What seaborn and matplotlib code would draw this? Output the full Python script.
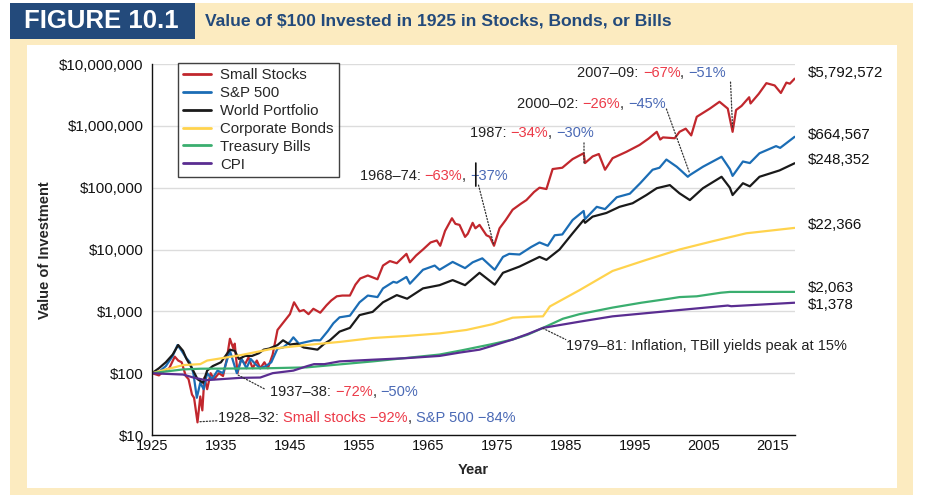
import numpy as np
import pandas as pd
import seaborn as sns
import matplotlib.pyplot as plt
from matplotlib import font_manager
from matplotlib.patches import Rectangle
from matplotlib.lines import Line2D
from matplotlib.ticker import FixedLocator, FuncFormatter, NullLocator

# ---- data (value of $100 invested) ----
small_years = [1925.0, 1926.0, 1926.8, 1927.5, 1928.3, 1928.8, 1929.3, 1929.9, 1930.3, 1930.8,
               1931.1, 1931.6, 1932.0, 1932.3, 1932.6, 1933.0, 1933.5, 1934.0, 1934.7, 1935.3,
               1935.8, 1936.3, 1936.8, 1937.0, 1937.4, 1937.9, 1938.5, 1939.0, 1939.6, 1940.2,
               1940.7, 1941.3, 1941.8, 1942.5, 1943.2, 1944.0, 1945.0, 1945.6, 1946.4, 1947.0,
               1947.7, 1948.4, 1949.4, 1950.3, 1951.0, 1951.8, 1952.6, 1953.7, 1954.5, 1955.2,
               1956.3, 1957.7, 1958.5, 1959.5, 1960.5, 1961.9, 1962.4, 1963.3, 1964.3, 1965.4,
               1966.3, 1966.8, 1967.5, 1968.5, 1969.0, 1969.6, 1970.4, 1970.8, 1971.5, 1971.9,
               1972.5, 1973.5, 1974.0, 1974.6, 1975.4, 1976.3, 1977.3, 1978.5, 1979.3, 1980.4,
               1981.2, 1982.2, 1983.1, 1984.5, 1986.0, 1987.6, 1987.8, 1988.9, 1989.8, 1990.7,
               1991.8, 1993.8, 1995.7, 1997.0, 1998.2, 1998.7, 1999.1, 2000.8, 2001.5, 2002.4,
               2003.2, 2004.0, 2005.9, 2007.3, 2008.5, 2009.2, 2009.7, 2010.5, 2011.6, 2011.8,
               2013.0, 2014.1, 2015.3, 2016.2, 2017.0, 2017.5, 2018.2]
small_vals = [100, 92, 110, 120, 185, 160, 150, 90, 80, 45,
              40, 16, 42, 25, 85, 55, 100, 80, 100, 90,
              160, 360, 250, 300, 100, 170, 140, 180, 120, 160,
              120, 150, 120, 200, 500, 650, 900, 1400, 1000, 1050,
              900, 1100, 950, 1250, 1500, 1750, 1800, 1800, 2700, 3400,
              3800, 3300, 5500, 6500, 6000, 8500, 6200, 8000, 10000, 13000,
              14000, 11500, 20000, 32000, 26000, 25000, 16000, 18000, 27000, 22000,
              25000, 17000, 16000, 11500, 22000, 30000, 44000, 55000, 63000, 85000,
              100000, 95000, 200000, 210000, 290000, 360000, 250000, 320000, 350000, 195000,
              300000, 380000, 490000, 620000, 800000, 600000, 650000, 630000, 800000, 900000,
              700000, 1400000, 1900000, 2450000, 1900000, 800000, 1800000, 2100000, 2900000, 2300000,
              3300000, 4900000, 4500000, 3400000, 5000000, 4800000, 5792572]

sp_years = [1925.0, 1926.0, 1927.0, 1928.0, 1928.7, 1929.3, 1929.9, 1930.5, 1931.0, 1931.5,
            1932.0, 1932.5, 1933.0, 1933.7, 1934.5, 1935.3, 1936.3, 1937.3, 1938.0, 1938.7,
            1939.3, 1940.0, 1940.7, 1941.5, 1942.3, 1943.2, 1944.0, 1945.0, 1945.5, 1946.3,
            1947.4, 1948.5, 1949.4, 1950.5, 1951.3, 1952.2, 1953.7, 1955.1, 1956.3, 1957.7,
            1958.5, 1960.0, 1960.5, 1961.9, 1962.4, 1964.3, 1966.0, 1966.7, 1968.6, 1970.4,
            1971.5, 1972.9, 1974.7, 1975.9, 1976.8, 1978.3, 1980.0, 1981.2, 1982.4, 1983.4,
            1984.5, 1986.0, 1987.6, 1987.8, 1989.5, 1990.7, 1992.4, 1994.3, 1995.8, 1997.6,
            1998.6, 1999.6, 2001.1, 2001.7, 2002.7, 2003.0, 2004.9, 2007.6, 2008.8, 2009.2,
            2010.7, 2011.7, 2013.1, 2015.5, 2016.1, 2018.2]
sp_vals = [100, 105, 130, 190, 285, 230, 180, 150, 100, 40,
           70, 55, 100, 80, 110, 100, 230, 100, 170, 120,
           170, 140, 120, 130, 150, 250, 260, 320, 380, 300,
           320, 340, 340, 480, 640, 800, 850, 1400, 1800, 1700,
           2350, 3000, 2900, 3600, 2800, 4700, 5500, 4700, 6300, 5000,
           6200, 7200, 4700, 7600, 8500, 8300, 11000, 13000, 11500, 17000,
           17500, 30000, 42000, 31000, 49000, 45000, 70000, 80000, 118000, 195000,
           210000, 285000, 218000, 190000, 150000, 160000, 218000, 316000, 200000, 155000,
           265000, 250000, 360000, 470000, 440000, 664567]

world_years = [1925.0, 1926.0, 1927.0, 1928.0, 1928.8, 1929.5, 1930.0, 1930.8, 1931.6, 1932.4,
               1933.0, 1933.8, 1935.0, 1936.3, 1937.0, 1937.6, 1938.5, 1939.5, 1940.5, 1941.2,
               1942.0, 1943.2, 1944.0, 1945.0, 1946.0, 1947.0, 1948.0, 1949.0, 1950.0, 1950.8,
               1952.2, 1953.7, 1955.1, 1957.0, 1958.5, 1960.5, 1962.0, 1964.3, 1966.7, 1968.6,
               1970.4, 1972.5, 1974.7, 1975.9, 1978.3, 1981.2, 1982.2, 1984.1, 1986.0, 1987.6,
               1987.8, 1988.9, 1990.9, 1992.8, 1994.7, 1996.7, 1998.2, 2000.1, 2001.5, 2003.0,
               2004.9, 2007.6, 2008.8, 2009.2, 2010.7, 2011.7, 2013.1, 2016.0, 2018.2]
world_vals = [100, 120, 150, 200, 285, 230, 170, 120, 80, 70,
              110, 130, 150, 240, 230, 170, 190, 190, 210, 240,
              250, 285, 340, 290, 300, 260, 250, 240, 300, 340,
              470, 540, 870, 980, 1400, 1830, 1600, 2350, 2650, 3200,
              2650, 4200, 2700, 4200, 5300, 7600, 6800, 10000, 18300, 30000,
              27000, 34000, 39000, 49000, 56000, 76000, 98000, 110000, 81000, 63000,
              98000, 150000, 100000, 76000, 118000, 105000, 150000, 190000, 248352]

corp_years = [1925.0, 1929.5, 1932.0, 1933.0, 1937.8, 1942.6, 1947.4, 1952.2, 1957.0, 1961.9,
              1966.7, 1970.6, 1974.4, 1977.3, 1980.2, 1981.7, 1982.7, 1987.0, 1991.8, 1996.7,
              2001.5, 2006.3, 2011.2, 2018.2]
corp_vals = [100, 135, 140, 160, 195, 250, 285, 320, 370, 400,
             440, 500, 620, 790, 820, 830, 1200, 2200, 4500, 6800,
             10000, 13600, 18300, 22366]

tbill_years = [1925.0, 1929.5, 1932.0, 1941.6, 1947.4, 1957.0, 1966.7, 1970.0, 1974.0, 1977.3,
               1979.5, 1981.7, 1984.6, 1987.0, 1991.8, 1996.0, 2000.0, 2001.5, 2004.0, 2007.5,
               2008.8, 2018.2]
tbill_vals = [100, 115, 118, 120, 124, 155, 200, 235, 290, 350,
              420, 540, 760, 900, 1150, 1380, 1600, 1700, 1750, 2000,
              2060, 2063]

cpi_years = [1925.0, 1926.5, 1929.5, 1931.0, 1932.8, 1937.8, 1940.7, 1942.5, 1945.5, 1947.5,
             1948.5, 1950.0, 1952.2, 1957.0, 1961.9, 1966.7, 1969.6, 1972.5, 1974.5, 1977.3,
             1979.5, 1981.7, 1987.0, 1991.8, 2001.5, 2008.5, 2009.0, 2018.2]
cpi_vals = [100, 98, 95, 85, 77, 84, 85, 100, 110, 130,
            140, 140, 155, 165, 175, 190, 215, 240, 280, 350,
            430, 540, 680, 830, 1050, 1240, 1210, 1378]

series_names = ['Small Stocks', 'S&P 500', 'World Portfolio', 'Corporate Bonds', 'Treasury Bills', 'CPI']
series_colors = ['#c1272d', '#1b6db5', '#1a1a1a', '#ffd34d', '#3aae6f', '#5a2d91']
end_labels = ['$5,792,572', '$664,567', '$248,352', '$22,366', '$2,063', '$1,378']

RED = '#ec3a48'
BLUE = '#4a69b5'

df = pd.concat([
    pd.DataFrame({'Year': yrs, 'Value': vals, 'Series': name})
    for name, yrs, vals in zip(series_names,
                               [small_years, sp_years, world_years, corp_years, tbill_years, cpi_years],
                               [small_vals, sp_vals, world_vals, corp_vals, tbill_vals, cpi_vals])
])

sns.set_style('white')
names = {f.name for f in font_manager.fontManager.ttflist}
head_font = 'Liberation Sans Narrow' if 'Liberation Sans Narrow' in names else 'Liberation Sans'
plt.rcParams['font.family'] = ['Liberation Sans', 'DejaVu Sans']

W, H = 931, 495
fig = plt.figure(figsize=(W / 100, H / 100), dpi=100)
fig.patch.set_facecolor('white')

cream = '#fcebc0'
navy = '#234a7b'
fig.add_artist(Rectangle((10 / W, 0), 903 / W, 492 / H, transform=fig.transFigure,
                         facecolor=cream, edgecolor='none', zorder=-5))
fig.add_artist(Rectangle((27 / W, 7 / H), 870 / W, 443 / H, transform=fig.transFigure,
                         facecolor='white', edgecolor='none', zorder=-4))
fig.add_artist(Rectangle((10 / W, 456 / H), 185 / W, 36 / H, transform=fig.transFigure,
                         facecolor=navy, edgecolor='none', zorder=-3))
fig.text(101 / W, 1 - 21 / H, 'FIGURE 10.1', color='white', fontsize=18.5, fontweight='bold',
         family=[head_font, 'DejaVu Sans'], ha='center', va='center')
fig.text(205 / W, 1 - 21 / H, 'Value of $100 Invested in 1925 in Stocks, Bonds, or Bills',
         color=navy, fontsize=12.6, fontweight='bold', family=[head_font, 'DejaVu Sans'],
         ha='left', va='center')

ax = fig.add_axes([152 / W, 1 - 435 / H, 643 / W, 371 / H])
ax.set_facecolor('white')

sns.lineplot(data=df, x='Year', y='Value', hue='Series', hue_order=series_names,
             palette=dict(zip(series_names, series_colors)), estimator=None, errorbar=None,
             sort=False, linewidth=1.6, legend=False, ax=ax)

ax.set_yscale('log')
ax.set_ylim(10, 1e7)
ax.set_xlim(1925, 2018.25)

ax.yaxis.set_major_locator(FixedLocator([10 ** k for k in range(1, 8)]))
ax.yaxis.set_minor_locator(NullLocator())
ax.yaxis.set_major_formatter(FuncFormatter(lambda v, p: '${:,.0f}'.format(v)))
ax.xaxis.set_major_locator(FixedLocator(list(range(1925, 2016, 10))))
ax.xaxis.set_minor_locator(FixedLocator(list(range(1930, 2018, 10))))
ax.tick_params(axis='y', direction='out', length=5, width=1, pad=1, labelsize=10.8, colors='#111111')
ax.tick_params(axis='x', which='both', direction='in', length=5, width=1, pad=3, labelsize=10.5,
               colors='#111111')
ax.grid(axis='y', color='#dcdcdc', lw=1)
ax.set_axisbelow(True)
for s in ['top', 'right']:
    ax.spines[s].set_visible(False)
for s in ['left', 'bottom']:
    ax.spines[s].set_color('#111111')
    ax.spines[s].set_linewidth(1)
ax.set_xlabel('')
ax.set_ylabel('')

fig.text(45 / W, 1 - 250 / H, 'Value of Investment', rotation=90, fontsize=10.5,
         fontweight='bold', ha='center', va='center')
fig.text(473 / W, 1 - 470 / H, 'Year', fontsize=10.5, fontweight='bold', ha='center', va='center')

# legend
handles = [Line2D([0], [0], color=c, lw=2) for c in series_colors]
leg = ax.legend(handles, series_names, loc='upper left', bbox_to_anchor=(0.040, 1.003),
                frameon=True, fancybox=False, edgecolor='#111111', fontsize=10.8,
                handlelength=1.9, handletextpad=0.6, labelspacing=0.26, borderpad=0.35,
                borderaxespad=0)
leg.get_frame().set_linewidth(1)


def multi_text(x, y, parts):
    t = ax.text(x, y, parts[0][0], color=parts[0][1], fontsize=10.5, ha='left', va='center')
    for s, c in parts[1:]:
        t = ax.annotate(s, xy=(1, 0), xycoords=t, color=c, fontsize=10.5, ha='left', va='bottom')


def leader(p_from, p_to):
    ax.annotate('', xy=p_to, xytext=p_from,
                arrowprops=dict(arrowstyle='-', color='#333333', lw=0.9, ls=(0, (1, 1.5)),
                                shrinkA=0, shrinkB=0))


multi_text(1986.7, 7.1e6, [('2007–09: ', '#222222'), ('−67%', RED), (', ', '#222222'), ('−51%', BLUE)])
leader((2008.9, 5.1e6), (2009.2, 9.2e5))
multi_text(1977.9, 2.25e6, [('2000–02: ', '#222222'), ('−26%', RED), (', ', '#222222'), ('−45%', BLUE)])
leader((1999.6, 1.87e6), (2002.9, 1.8e5))
multi_text(1971.1, 7.6e5, [('1987: ', '#222222'), ('−34%', RED), (', ', '#222222'), ('−30%', BLUE)])
leader((1987.65, 5.3e5), (1987.65, 2.5e5))
multi_text(1955.1, 1.55e5, [('1968–74: ', '#222222'), ('−63%', RED), (', ', '#222222'), ('−37%', BLUE)])
leader((1972.35, 1.1e5), (1974.57, 1.18e4))
ax.annotate('', xy=(1971.96, 1.06e5), xytext=(1971.96, 2.5e5),
            arrowprops=dict(arrowstyle='-', color='#111111', lw=1.2, shrinkA=0, shrinkB=0))
multi_text(1985.1, 275, [('1979–81: Inflation, TBill yields peak at 15%', '#222222')])
leader((1981.7, 530), (1985.0, 350))
multi_text(1942.1, 49, [('1937–38: ', '#222222'), ('−72%', RED), (', ', '#222222'), ('−50%', BLUE)])
leader((1937.5, 93), (1941.4, 55))
multi_text(1934.6, 18.5, [('1928–32: ', '#222222'), ('Small stocks −92%', RED), (', ', '#222222'),
                          ('S&P 500 −84%', BLUE)])
leader((1931.96, 16.4), (1934.5, 17.0))

# end values
end_pos = [7.1e6, 7.1e5, 2.8e5, 2.5e4, 2.38e3, 1.27e3]
for lab, yv in zip(end_labels, end_pos):
    ax.text(2020.1, yv, lab, fontsize=10.8, color='#111111', ha='left', va='center')

fig.savefig('out.png', dpi=100, facecolor=fig.get_facecolor())
